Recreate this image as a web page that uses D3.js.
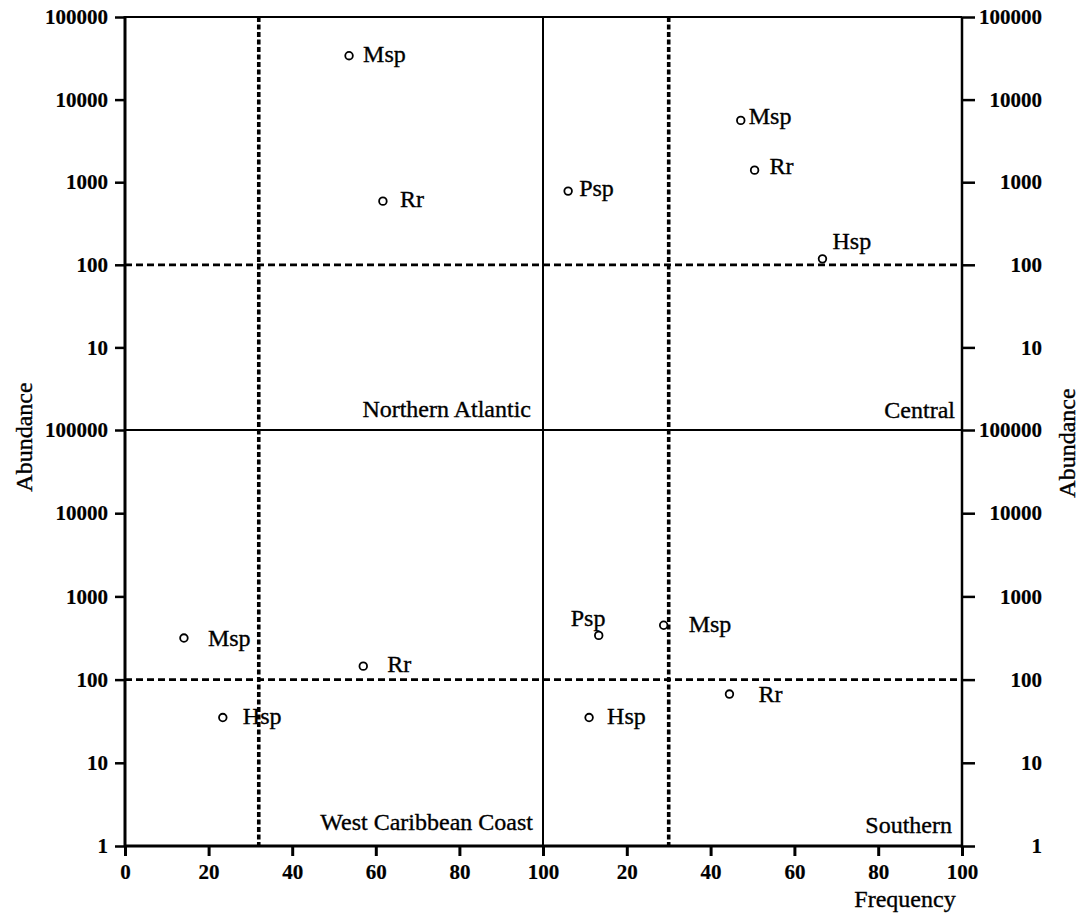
<!DOCTYPE html>
<html>
<head>
<meta charset="utf-8">
<script src="https://cdn.jsdelivr.net/npm/d3@7/dist/d3.min.js"></script>
<style>
  html, body { margin: 0; padding: 0; background: #fff; }
  svg { display: block; }
</style>
</head>
<body>
<svg id="chart" width="1080" height="918"></svg>
<script>
// ---------- data ----------
const regionNames = ["Northern Atlantic", "Central", "West Caribbean Coast", "Southern"];

const naSpecies = ["Msp", "Rr"];
const naFreq    = [53.6, 61.7];
const naAbund   = [34000, 590];

const centralSpecies = ["Psp", "Msp", "Rr", "Hsp"];
const centralFreq    = [6, 47.2, 50.5, 66.7];
const centralAbund   = [780, 5600, 1400, 118];

const wccSpecies = ["Msp", "Rr", "Hsp"];
const wccFreq    = [14.1, 57, 23.4];
const wccAbund   = [316, 145, 35];

const southSpecies = ["Psp", "Msp", "Hsp", "Rr"];
const southFreq    = [13.3, 28.8, 11, 44.5];
const southAbund   = [340, 450, 35, 67];

// threshold lines
const freqThresholdLeft  = 32;
const freqThresholdRight = 30;
const abundThreshold     = 100;

// tick labels
const topYTicks    = [100000, 10000, 1000, 100, 10];
const bottomYTicks = [100000, 10000, 1000, 100, 10, 1];
const leftXTicks   = [0, 20, 40, 60, 80, 100];
const rightXTicks  = [20, 40, 60, 80, 100];

// label offsets (layout only): [dx, dy] per point
const naOffsets      = [[14, 6], [17, 6]];
const centralOffsets = [[11, 5], [8, 4], [15, 4], [10, -10]];
const wccOffsets     = [[24, 8], [24, 6], [20, 6]];
const southOffsets   = [[-28, -9], [25, 7], [18, 6], [29, 8]];

// ---------- layout ----------
const FONT = "Liberation Serif";
const svg = d3.select("#chart");
const X0 = 125, XM = 543, X1 = 962;
const Y0 = 17, YM = 430, Y1 = 846;

const xLeft  = d3.scaleLinear().domain([0, 100]).range([X0, XM]);
const xRight = d3.scaleLinear().domain([0, 100]).range([XM, X1]);
const yTop    = d3.scaleLog().domain([1, 100000]).range([YM, Y0]);
const yBottom = d3.scaleLog().domain([1, 100000]).range([Y1, YM]);

const fmt = d3.format("d");

function txt(sel, size, weight) {
  return sel.style("font-family", FONT).style("font-size", size + "px")
    .style("font-weight", weight || "normal").style("fill", "#000")
    .style("stroke", "#000").style("stroke-width", weight === "bold" ? 0.2 : 0.35);
}

// ---------- threshold lines ----------
function dashedH(y) {
  svg.append("line").attr("x1", X0).attr("x2", X1).attr("y1", y).attr("y2", y)
    .attr("stroke", "#000").attr("stroke-width", 2.8).attr("stroke-dasharray", "7,4");
}
dashedH(yTop(abundThreshold));
dashedH(yBottom(abundThreshold));

function dottedV(x) {
  svg.append("line").attr("x1", x).attr("x2", x).attr("y1", Y0).attr("y2", Y1)
    .attr("stroke", "#000").attr("stroke-width", 3.6).attr("stroke-dasharray", "5,2.5");
}
dottedV(xLeft(freqThresholdLeft));
dottedV(xRight(freqThresholdRight));

// ---------- frame lines ----------
svg.append("line").attr("x1", X0).attr("x2", X1).attr("y1", Y0).attr("y2", Y0)
  .attr("stroke", "#000").attr("stroke-width", 2);
svg.append("line").attr("x1", X0).attr("x2", X1).attr("y1", YM).attr("y2", YM)
  .attr("stroke", "#000").attr("stroke-width", 2);
svg.append("line").attr("x1", XM).attr("x2", XM).attr("y1", Y0).attr("y2", Y1)
  .attr("stroke", "#000").attr("stroke-width", 2);

// ---------- axes ----------
function styleAxis(g, w) {
  g.select(".domain").remove();
  g.selectAll(".tick line").attr("stroke", "#000").attr("stroke-width", w);
  txt(g.selectAll(".tick text"), 21, "bold");
}

const gLT = svg.append("g").attr("transform", `translate(${X0},0)`)
  .call(d3.axisLeft(yTop).tickValues(topYTicks).tickFormat(fmt).tickSize(10).tickPadding(7));
styleAxis(gLT, 2.5);
const gLB = svg.append("g").attr("transform", `translate(${X0},0)`)
  .call(d3.axisLeft(yBottom).tickValues(bottomYTicks).tickFormat(fmt).tickSize(10).tickPadding(7));
styleAxis(gLB, 2.5);

const gRT = svg.append("g").attr("transform", `translate(${X1},0)`)
  .call(d3.axisRight(yTop).tickValues(topYTicks).tickFormat(fmt).tickSize(13).tickPadding(7));
styleAxis(gRT, 2.5);
gRT.selectAll(".tick text").attr("text-anchor", "end").attr("x", 80);
const gRB = svg.append("g").attr("transform", `translate(${X1},0)`)
  .call(d3.axisRight(yBottom).tickValues(bottomYTicks).tickFormat(fmt).tickSize(13).tickPadding(7));
styleAxis(gRB, 2.5);
gRB.selectAll(".tick text").attr("text-anchor", "end").attr("x", 80);

const gBL = svg.append("g").attr("transform", `translate(0,${Y1})`)
  .call(d3.axisBottom(xLeft).tickValues(leftXTicks).tickFormat(fmt).tickSize(10).tickPadding(8));
styleAxis(gBL, 3);
const gBR = svg.append("g").attr("transform", `translate(0,${Y1})`)
  .call(d3.axisBottom(xRight).tickValues(rightXTicks).tickFormat(fmt).tickSize(10).tickPadding(8));
styleAxis(gBR, 3);

// axis lines
svg.append("line").attr("x1", X0).attr("x2", X0).attr("y1", Y0 - 1).attr("y2", Y1 + 1)
  .attr("stroke", "#000").attr("stroke-width", 3);
svg.append("line").attr("x1", X1).attr("x2", X1).attr("y1", Y0).attr("y2", Y1 + 2)
  .attr("stroke", "#000").attr("stroke-width", 2.5);
svg.append("line").attr("x1", X0).attr("x2", X1).attr("y1", Y1).attr("y2", Y1)
  .attr("stroke", "#000").attr("stroke-width", 3);

// ---------- points ----------
function drawPoints(species, freq, abund, offsets, xs, ys) {
  const data = species.map((s, i) => ({ s, f: freq[i], a: abund[i], o: offsets[i] }));
  const g = svg.append("g");
  g.selectAll("circle").data(data).join("circle")
    .attr("cx", d => xs(d.f)).attr("cy", d => ys(d.a)).attr("r", 3.8)
    .attr("fill", "#fff").attr("stroke", "#000").attr("stroke-width", 1.8);
  txt(g.selectAll("text").data(data).join("text")
    .attr("x", d => xs(d.f) + d.o[0]).attr("y", d => ys(d.a) + d.o[1]), 24)
    .text(d => d.s);
}
drawPoints(naSpecies, naFreq, naAbund, naOffsets, xLeft, yTop);
drawPoints(centralSpecies, centralFreq, centralAbund, centralOffsets, xRight, yTop);
drawPoints(wccSpecies, wccFreq, wccAbund, wccOffsets, xLeft, yBottom);
drawPoints(southSpecies, southFreq, southAbund, southOffsets, xRight, yBottom);

// ---------- region labels ----------
const regionPos = [[531, 417], [955, 418], [533, 830], [952, 833]];
regionNames.forEach((n, i) => {
  txt(svg.append("text").attr("x", regionPos[i][0]).attr("y", regionPos[i][1])
    .attr("text-anchor", "end"), 24).text(n);
});

// ---------- axis titles ----------
txt(svg.append("text").attr("transform", "translate(32,437) rotate(-90)")
  .attr("text-anchor", "middle"), 24).text("Abundance");
txt(svg.append("text").attr("transform", "translate(1075,443) rotate(-90)")
  .attr("text-anchor", "middle"), 24).text("Abundance");
txt(svg.append("text").attr("x", 905).attr("y", 907)
  .attr("text-anchor", "middle"), 24).text("Frequency");
</script>
</body>
</html>
